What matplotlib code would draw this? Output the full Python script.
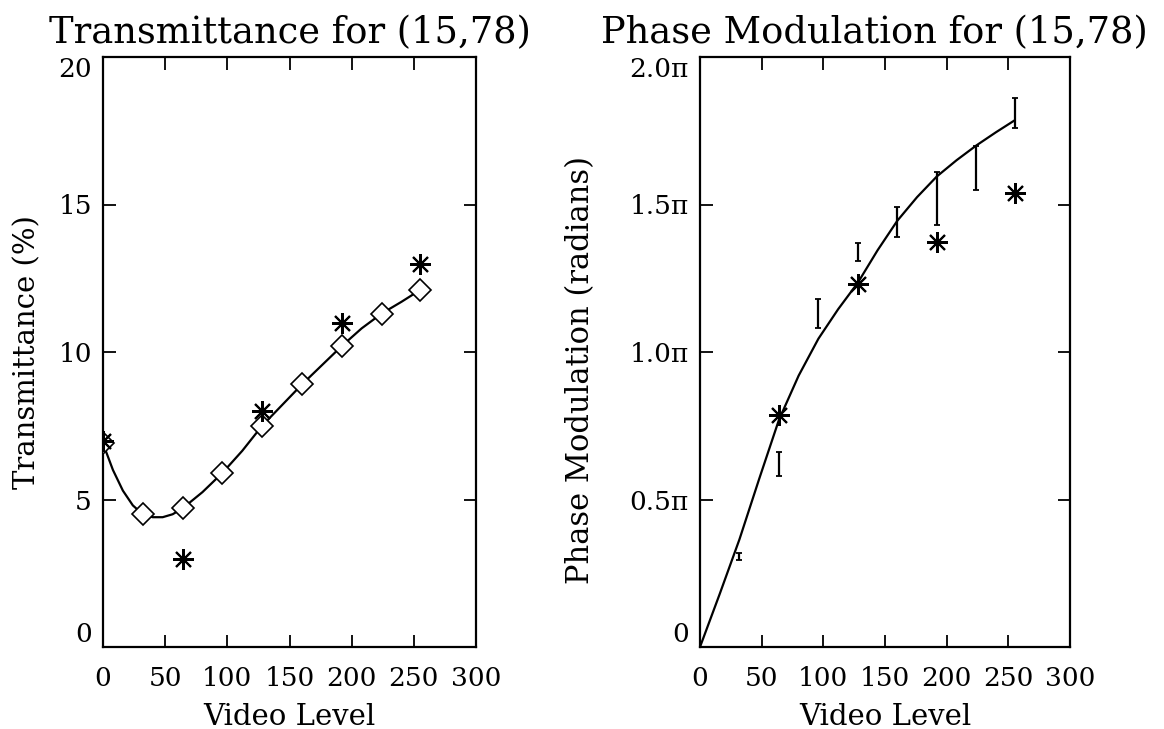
import numpy as np
import matplotlib
matplotlib.use("Agg")
import matplotlib.pyplot as plt

plt.rcParams['font.family'] = ['DejaVu Serif']

# --- transmittance panel ---
video_levels = [0, 32, 64, 96, 128, 160, 192, 224, 255]
trans_measured = [6.9, 4.5, 4.7, 5.9, 7.5, 8.9, 10.2, 11.3, 12.1]
trans_star_x = [0, 64, 128, 192, 255]
trans_star_y = [7.0, 3.0, 8.0, 11.0, 13.0]
# fitted curve
trans_fit_x = [0, 8, 16, 24, 32, 40, 48, 56, 64, 80, 96, 112, 128, 144, 160, 176, 192, 208, 224, 240, 255]
trans_fit_y = [6.9, 6.0, 5.3, 4.8, 4.5, 4.4, 4.4, 4.5, 4.7, 5.25, 5.9, 6.65, 7.5, 8.2, 8.9, 9.55,
               10.2, 10.8, 11.3, 11.7, 12.1]

# --- phase panel (values in units of pi) ---
phase_err_x = [32, 64, 96, 128, 160, 192, 224, 255]
phase_err_lo = [0.295, 0.58, 1.08, 1.31, 1.39, 1.43, 1.55, 1.76]
phase_err_hi = [0.317, 0.66, 1.18, 1.37, 1.49, 1.61, 1.70, 1.86]
phase_star_x = [64, 128, 192, 255]
phase_star_y = [0.785, 1.232, 1.373, 1.54]
phase_fit_x = [0, 16, 32, 48, 64, 80, 96, 112, 128, 144, 160, 176, 192, 208, 224, 240, 255]
phase_fit_y = [0.0, 0.18, 0.365, 0.57, 0.77, 0.92, 1.045, 1.145, 1.235, 1.345, 1.445, 1.525,
               1.595, 1.65, 1.70, 1.745, 1.785]

x_ticks = [0, 50, 100, 150, 200, 250, 300]
trans_ticks = [0, 5, 10, 15, 20]
phase_ticks = [0, 0.5, 1.0, 1.5, 2.0]
phase_labels = ['0', '0.5π', '1.0π', '1.5π', '2.0π']

fig = plt.figure(figsize=(11.64, 7.29), dpi=100)
ax1 = fig.add_axes([103 / 1164, 82 / 729, 373 / 1164, 590 / 729])
ax2 = fig.add_axes([700 / 1164, 82 / 729, 370 / 1164, 590 / 729])

star = (8, 2, 0)


def style(ax):
    for s in ax.spines.values():
        s.set_linewidth(1.6)
    ax.tick_params(direction='in', length=9, width=1.3, top=True, right=True,
                   labelsize=19, pad=8)
    ax.tick_params(axis='x', pad=14)
    ax.set_xlim(0, 300)
    ax.set_xticks(x_ticks)
    ax.set_xlabel('Video Level', fontsize=21, labelpad=8)
    ylabs = ax.get_yticklabels()
    ylabs[0].set_va('bottom')
    ylabs[-1].set_va('top')


# left
ax1.plot(trans_fit_x, trans_fit_y, color='k', lw=1.6, zorder=2)
ax1.plot(video_levels, trans_measured, ls='none', marker='D', ms=11, mfc='white',
         mec='k', mew=1.2, zorder=3)
ax1.plot(trans_star_x, trans_star_y, ls='none', marker=star, ms=15, mec='k',
         mew=1.5, zorder=4)
ax1.set_ylim(0, 20)
ax1.set_yticks(trans_ticks)
ax1.set_ylabel('Transmittance (%)', fontsize=21)
ax1.yaxis.set_label_coords(-0.165, 0.5)
ax1.set_title('Transmittance for (15,78)', fontsize=26.5, pad=10)
style(ax1)

# right
ax2.plot(phase_fit_x, phase_fit_y, color='k', lw=1.6, zorder=2)
err_c = (np.array(phase_err_lo) + np.array(phase_err_hi)) / 2
err_h = (np.array(phase_err_hi) - np.array(phase_err_lo)) / 2
ax2.errorbar(phase_err_x, err_c, yerr=err_h, fmt='none', ecolor='k', elinewidth=1.6,
             capsize=2, capthick=1.3, zorder=3)
ax2.plot(phase_star_x, phase_star_y, ls='none', marker=star, ms=15, mec='k',
         mew=1.5, zorder=4)
ax2.set_ylim(0, 2.0)
ax2.set_yticks(phase_ticks)
ax2.set_yticklabels(phase_labels)
ax2.set_ylabel('Phase Modulation (radians)', fontsize=22)
ax2.yaxis.set_label_coords(-0.28, 0.47)
ax2.set_title('Phase Modulation for (15,78)', fontsize=26.5, pad=10, x=0.47)
style(ax2)

fig.savefig('out.png', dpi=100, facecolor='white')
